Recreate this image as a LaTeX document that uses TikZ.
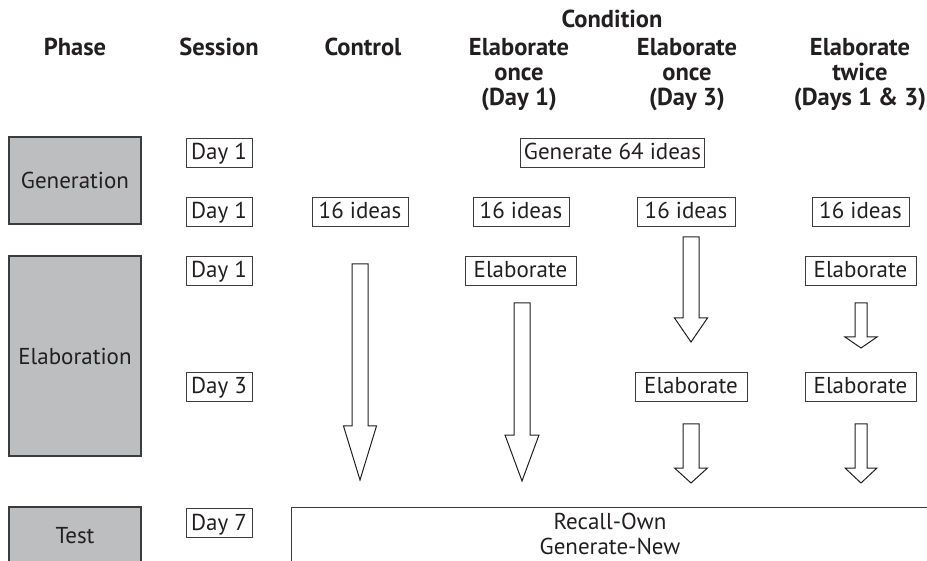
\documentclass[tikz,border=0pt]{standalone}
\usepackage{fontspec}
\setmainfont{PT Sans}
\usepackage{tikz}
\usetikzlibrary{calc}
\definecolor{phaseFill}{RGB}{189,190,192}
\definecolor{inkGray}{RGB}{35,31,32}
\definecolor{lineGray}{RGB}{60,60,60}
\tikzstyle{tsHeader} = [
    text=inkGray,
    font=\bfseries\fontsize{24.5}{25}\selectfont,
    align=center,
    inner sep=0pt
]
\tikzstyle{tsBody} = [
    text=inkGray,
    font=\fontsize{23}{25}\selectfont
]
\tikzstyle{tsPhase} = [
    rectangle,
    tsBody,
    draw=lineGray,
    fill=phaseFill,
    line width=1.2pt,
    minimum width=132pt,
    inner sep=0pt]
\tikzstyle{tsStepbox} = [
    rectangle,
    tsBody,
    draw=lineGray,
    line width=0.9pt,
    inner xsep=3pt,
    inner ysep=0pt,
    text height=18pt,
    text depth=4pt,
    minimum height=29pt]
\tikzstyle{tsArrow} = [
    draw=inkGray,
    line width=1pt,
    fill=white,
    line join=miter]
% top, tip, head length, shaft half width, head half width
\newcommand{\fatArrow}[5]{%
    \draw[tsArrow] ($(#1)+(-#4,0)$) -- ($(#1)+(#4,0)$) -- ($(#2)+(#4,-#3)$)
        -- ($(#2)+(#5,-#3)$) -- (#2) -- ($(#2)+(-#5,-#3)$) -- ($(#2)+(-#4,-#3)$) -- cycle;}
\begin{document}
\begin{tikzpicture}[x=1pt, y=-1pt]

        \useasboundingbox (0,0) rectangle (927,561);
        \clip (0,0) rectangle (927,561);

        % headers
        \node[tsHeader, anchor=base] (hdCondition) at (612,28) {Condition};
        \node[tsHeader, anchor=base] (hdPhase) at (75,56) {Phase};
        \node[tsHeader, anchor=base] (hdSession) at (219,56) {Session};
        \node[tsHeader, anchor=base] (hdControl) at (363,56) {Control};
        \node[tsHeader, anchor=north] (hdOnceA) at (519,38) {Elaborate\\once\\(Day 1)};
        \node[tsHeader, anchor=north] (hdOnceB) at (687,38) {Elaborate\\once\\(Day 3)};
        \node[tsHeader, anchor=north] (hdTwice) at (860,38) {Elaborate\\twice\\(Days 1 \& 3)};

        % phases
        \node[tsPhase, minimum height=87pt] (phGen) at (75,180.5) {Generation};
        \node[tsPhase, minimum height=200pt] (phElab) at (75,356) {Elaboration};
        \node[tsPhase, minimum height=58pt] (phTest) at (75,536) {Test};

        % sessions
        \node[tsStepbox, minimum width=66pt] (sDayA) at (219,152.5) {Day 1};
        \node[tsStepbox, minimum width=66pt] (sDayB) at (219,212) {Day 1};
        \node[tsStepbox, minimum width=66pt] (sDayC) at (219,271) {Day 1};
        \node[tsStepbox, minimum width=66pt] (sDayD) at (219,387) {Day 3};
        \node[tsStepbox, minimum width=66pt] (sDayE) at (219,523) {Day 7};

        % conditions
        \node[tsStepbox, minimum width=183pt] (genAll) at (612.5,152.5) {Generate 64 ideas};
        \node[tsStepbox, minimum width=96pt] (ideasCtl) at (360,212) {16 ideas};
        \node[tsStepbox, minimum width=96pt] (ideasA) at (521,212) {16 ideas};
        \node[tsStepbox, minimum width=98pt] (ideasB) at (686,212) {16 ideas};
        \node[tsStepbox, minimum width=97pt] (ideasC) at (860.5,212) {16 ideas};
        \node[tsStepbox, minimum width=111pt] (elabA) at (520.5,271) {Elaborate};
        \node[tsStepbox, minimum width=111pt] (elabCa) at (860.5,271) {Elaborate};
        \node[tsStepbox, minimum width=112pt] (elabB) at (691,387) {Elaborate};
        \node[tsStepbox, minimum width=111pt] (elabCb) at (860.5,387) {Elaborate};

        % test tasks, box runs off the page
        \draw[draw=lineGray, line width=0.9pt] (291,507) rectangle (929,575);
        \node[tsBody, align=center, inner sep=0pt, anchor=north] (testTasks) at (610,513)
              {Recall-Own\\Generate-New};

        % arrows
        \coordinate (aCtlTop) at (360,264);
        \coordinate (aCtlTip) at (360,480);
        \coordinate (aATop) at (522,303);
        \coordinate (aATip) at (522,481);
        \coordinate (aBTop) at (691,237);
        \coordinate (aBTip) at (691,342);
        \coordinate (aBTopb) at (691,424);
        \coordinate (aBTipb) at (691,483);
        \coordinate (aCTop) at (861,303);
        \coordinate (aCTip) at (861,348);
        \coordinate (aCTopb) at (861,424);
        \coordinate (aCTipb) at (861,483);

        \fatArrow{aCtlTop}{aCtlTip}{54}{8}{16.5}
        \fatArrow{aATop}{aATip}{46}{8}{17}
        \fatArrow{aBTop}{aBTip}{24}{8}{16.5}
        \fatArrow{aBTopb}{aBTipb}{15}{8}{16.5}
        \fatArrow{aCTop}{aCTip}{11}{6}{16}
        \fatArrow{aCTopb}{aCTipb}{15}{6}{16}

\end{tikzpicture}
\end{document}
